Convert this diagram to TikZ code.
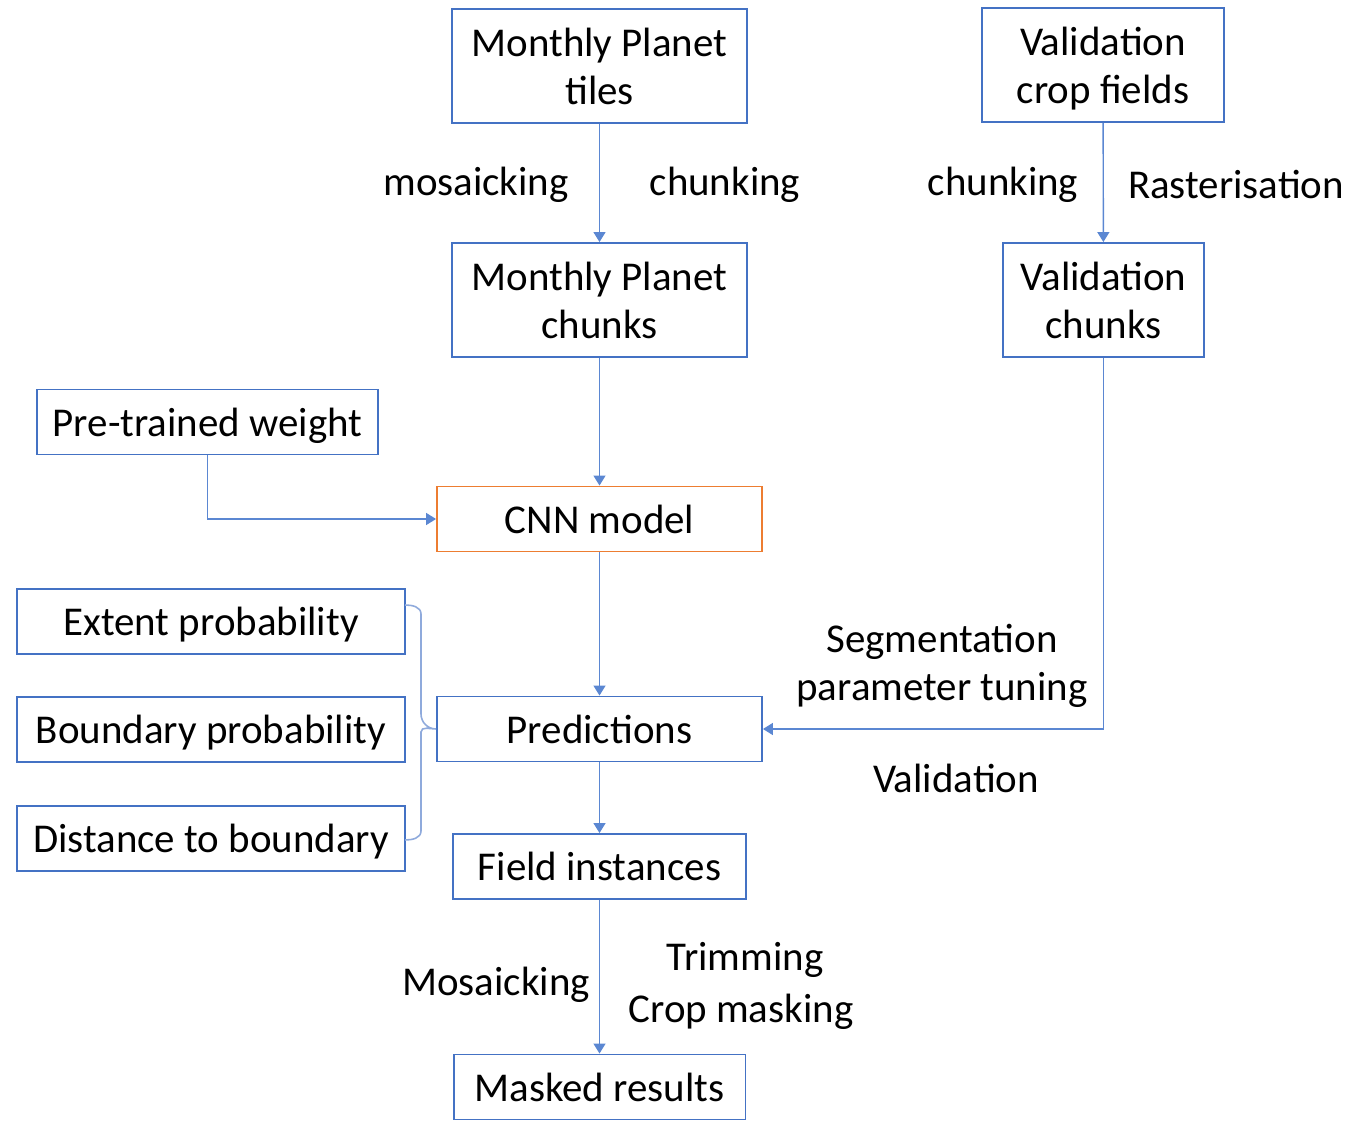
\documentclass[tikz,border=0pt]{standalone}
\usepackage{fontspec}
\setmainfont{Carlito}
\usetikzlibrary{arrows.meta}
\definecolor{boxBlue}{RGB}{68,114,196}
\definecolor{boxOrange}{RGB}{237,125,49}
\definecolor{lineBlue}{RGB}{91,135,210}
\definecolor{braceBlue}{RGB}{143,170,220}

\begin{document}
\begin{tikzpicture}[x=0.02cm, y=-0.02cm,
    every node/.style={font=\fontsize{23.3}{27.3}\selectfont, text depth=0pt},
    box/.style={draw=boxBlue, line width=1.1pt, fill=white, align=center, inner sep=0pt, minimum height=1.3cm},
    tallbox/.style={box, minimum height=2.28cm},
    lbl/.style={inner sep=0pt, align=center},
    arr/.style={draw=lineBlue, line width=0.8pt, -{Triangle[width=0.24cm, length=0.2cm]}}]
    \useasboundingbox (0,0) rectangle (1359,1124);

    % inputs
    \node[tallbox, minimum width=5.9cm] (tiles) at (599.5,66) {Monthly Planet\\tiles};
    \node[tallbox, minimum width=4.84cm] (valcrop) at (1103,65) {Validation\\crop fields};
    \node[tallbox, minimum width=5.9cm] (pchunks) at (599.5,300) {Monthly Planet\\chunks};
    \node[tallbox, minimum width=4.02cm] (valchunks) at (1103.5,300) {Validation\\chunks};
    \node[box, minimum width=6.82cm] (weight) at (207.5,422) {Pre-trained weight};

    % model and outputs
    \node[box, draw=boxOrange, minimum width=6.5cm] (cnn) at (599.5,519) {CNN model};
    \node[box, minimum width=6.5cm] (pred) at (599.5,729) {Predictions};
    \node[box, minimum width=5.86cm] (field) at (599.5,866.5) {Field instances};
    \node[box, minimum width=5.84cm] (masked) at (599.5,1087) {Masked results};

    \node[box, minimum width=7.76cm] (extent) at (211,621.5) {Extent probability};
    \node[box, minimum width=7.76cm] (bound) at (211,729.5) {Boundary probability};
    \node[box, minimum width=7.76cm] (dist) at (211,838.5) {Distance to boundary};

    % step labels
    \node[lbl] (mos) at (476,181) {mosaicking};
    \node[lbl] (chk) at (725,181) {chunking};
    \node[lbl] (vchk) at (1003,181) {chunking};
    \node[lbl] (rast) at (1236,184) {Rasterisation};
    \node[lbl] (tune) at (942,662) {Segmentation\\parameter tuning};
    \node[lbl] (valid) at (956,778) {Validation};
    \node[lbl] (mos2) at (496,981) {Mosaicking};
    \node[lbl] (trim) at (745,956) {Trimming};
    \node[lbl] (cmask) at (741,1008) {Crop masking};

    \draw[arr] (tiles) -- (pchunks);
    \draw[arr] (valcrop) -- (valchunks);
    \draw[arr] (pchunks) -- (cnn);
    \draw[arr] (weight.south) |- (cnn.west);
    \draw[arr] (cnn) -- (pred);
    \draw[arr] (valchunks.south) |- (pred.east);
    \draw[arr] (pred) -- (field);
    \draw[arr] (field) -- (masked);

    % brace grouping the three outputs
    \coordinate (bt) at (405,605);
    \coordinate (bb) at (405,840);
    \coordinate (btip) at (pred.west);
    \draw[braceBlue, line width=0.9pt]
        (bt) to[out=0, in=90] (421,614) -- (421,714)
        to[out=-90, in=180] (btip)
        to[out=180, in=90] (421,732) -- (421,831)
        to[out=-90, in=0] (bb);
\end{tikzpicture}
\end{document}
